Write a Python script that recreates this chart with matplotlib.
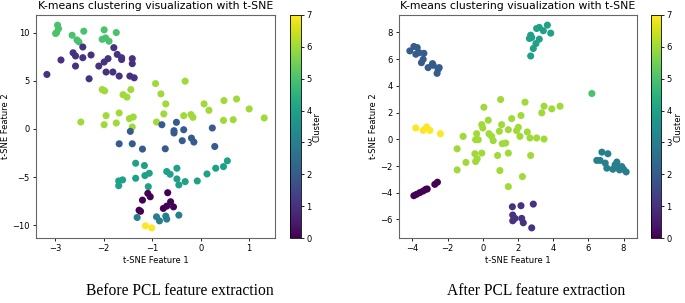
import matplotlib.pyplot as plt
import numpy as np

# before PCL: t-SNE coordinates and cluster labels
before_x = [
    -2.95, -2.93, -2.97, -2.99, -2.65, -2.55, -2.51, -2.41, -1.99, -2.03, -1.96, -1.89, -1.74,
    -3.17, -2.88, -2.63, -2.58, -2.58, -2.43, -2.43, -2.26, -2.30, -2.10, -1.99, -1.91, -1.95,
    -1.81, -1.79, -1.72, -1.63, -1.63, -1.68, -1.46, -1.41, -1.41, -1.37,
    -2.47, -2.03, -1.98, -1.95, -1.99, -1.74, -1.68, -1.60, -1.52, -1.44, -1.47, -1.39, -1.41,
    -0.93, -0.82, -0.72, -0.76, -0.91, -0.32, -0.35, -0.20, -0.16, 0.07, 0.17, 0.48, 0.47,
    0.74, 0.67, 1.00, 1.31,
    -1.45, -1.68, -1.41, -1.20, -0.80, -0.50, -0.55, -0.55, -0.35, -0.38, -0.19, -0.14, -0.73,
    0.24, 0.29,
    -1.34, -1.16, -1.34, -1.15, -1.06, -1.69, -1.61, -1.69, -1.08, -0.70, -0.63, -0.49, -0.49,
    -0.45, -0.32, -0.07, 0.13, 0.31, 0.47, 0.55,
    -1.09, -1.04, -1.20, -1.27, -1.24, -0.68, -0.77, -0.70, -0.62, -0.56,
    -1.31, -0.91, -0.85, -0.72, -0.70, -0.45,
    -1.14, -1.01,
]
before_y = [
    10.77, 10.40, 10.00, 9.90, 9.72, 9.23, 9.03, 10.14, 10.28, 9.30, 9.44, 9.10, 10.00,
    5.65, 7.15, 7.90, 7.57, 6.52, 8.50, 7.39, 7.67, 5.20, 6.52, 6.94, 7.29, 5.90,
    5.90, 8.43, 7.73, 7.39, 7.20, 5.48, 5.48, 7.29, 6.77, 5.30,
    0.71, 4.08, 3.95, 1.37, 0.43, 0.61, 1.65, 3.55, 3.30, 4.08, 1.06, 1.23, 0.19,
    4.70, 3.63, 2.59, 1.55, 0.71, 4.95, 1.37, 1.48, 1.20, 2.59, 1.93, 2.94, 0.88,
    3.10, 0.95, 2.07, 1.13,
    -0.26, -1.55, -1.55, -2.10, 0.43, 0.68, -0.19, -0.43, -0.09, -1.23, -0.96, -1.37, -2.07,
    0.09, -1.83,
    -3.57, -3.81, -5.13, -4.85, -4.61, -5.41, -5.30, -5.90, -6.00, -4.43, -4.71, -4.09, -5.20,
    -5.82, -5.48, -5.41, -4.68, -4.09, -3.92, -3.32,
    -6.70, -7.05, -7.40, -8.45, -8.56, -6.63, -8.26, -8.02, -7.57, -8.10,
    -9.20, -9.13, -9.55, -9.06, -9.37, -8.96,
    -10.07, -10.28,
]
before_label = [5] * 13 + [1] * 23 + [6] * 30 + [2] * 15 + [4] * 20 + [0] * 10 + [3] * 6 + [7] * 2

# after PCL
after_x = [
    -4.15, -3.92, -3.73, -3.81, -3.62, -3.35, -3.39, -3.49, -3.11, -2.82, -2.86, -2.54, -2.48, -2.60,
    -3.81, -3.39, -3.20, -3.01, -2.41,
    -3.92, -3.77, -3.58, -3.39, -3.24, -3.16, -2.73, -2.58,
    1.68, 2.17, 2.87, 1.70, 1.83, 1.70, 2.21, 2.30, 2.78,
    2.72, 2.65, 2.78, 3.06, 3.21, 3.44, 3.67, 3.86, 3.21, 3.02, 2.87, 2.72,
    6.20,
    6.77, 7.11, 6.48, 6.67, 6.96, 7.05, 7.39, 7.52, 7.62, 7.77, 7.90, 8.00, 8.15, 7.62,
    1.01, 0.06, 2.40, 3.48, 3.35, 3.92, 4.39, 1.64, 2.17, 0.31, -0.06, 0.00, 1.07, -1.12,
    -0.35, -0.41, -0.26, 0.35, 0.50, 0.59, 0.94, 1.45, 2.02, 1.92, 2.11, 2.53, 2.68, 3.06,
    3.48, 1.11, 1.30, -1.46, -0.45, -0.32, -0.41, -0.06, 0.84, 1.45, 2.72, -0.96, -1.46,
    0.97, 2.25, 1.45,
]
after_y = [
    6.62, 6.95, 6.87, 6.37, 6.49, 6.44, 5.99, 5.74, 5.37, 5.54, 5.67, 5.24, 5.37, 4.94,
    0.85, 0.67, 0.93, 0.67, 0.42,
    -4.22, -4.12, -3.99, -3.87, -3.74, -3.72, -3.37, -3.21,
    -5.05, -4.97, -4.85, -5.67, -5.92, -6.10, -5.92, -6.25, -6.63,
    7.80, 7.55, 7.62, 8.30, 8.38, 8.13, 8.55, 7.95, 7.50, 7.17, 6.80, 6.24,
    3.43,
    -0.96, -1.08, -1.58, -1.58, -1.78, -2.16, -2.24, -1.91, -2.11, -2.29, -2.04, -2.24, -2.44, -1.70,
    2.98, 2.40, 2.78, 2.48, 1.98, 2.28, 2.48, 1.55, 1.78, 1.43, 1.10, 0.85, 1.10, 0.22,
    0.42, -0.03, -0.03, 0.42, 0.22, -0.10, 0.60, 0.72, 0.90, 0.65, 0.22, 0.55, 0.10, 0.10,
    0.02, -0.33, -0.28, -0.71, -1.08, -1.46, -1.66, -1.03, -1.21, -1.03, -1.21, -1.73, -2.29,
    -2.34, -2.79, -3.54,
]
after_label = [2] * 14 + [7] * 5 + [0] * 8 + [1] * 9 + [4] * 12 + [5] * 1 + [3] * 14 + [6] * 44

captions = ['Before PCL feature extraction', 'After PCL feature extraction']

fig = plt.figure(figsize=(6.85, 3.03), dpi=100)

panels = [
    (before_x, before_y, before_label, [0.0526, 0.2145, 0.349, 0.736], [0.4234, 0.2145, 0.0155, 0.736], 0.263),
    (after_x, after_y, after_label, [0.5825, 0.2145, 0.3474, 0.736], [0.9500, 0.2145, 0.0150, 0.736], 0.782),
]

for (xs, ys, labs, ax_rect, cb_rect, cap_x), cap in zip(panels, captions):
    ax = fig.add_axes(ax_rect)
    cax = fig.add_axes(cb_rect)
    sc = ax.scatter(xs, ys, c=labs, cmap='viridis', vmin=0, vmax=7, s=26, linewidths=0)
    ax.set_title('K-means clustering visualization with t-SNE', fontsize=7.8, pad=4)
    ax.set_xlabel('t-SNE Feature 1', fontsize=6, labelpad=2)
    ax.set_ylabel('t-SNE Feature 2', fontsize=6, labelpad=2)
    ax.tick_params(labelsize=6, length=2.5, width=0.6, pad=2)
    for sp in ax.spines.values():
        sp.set_color('#666666')
        sp.set_linewidth(0.8)
    cb = fig.colorbar(sc, cax=cax)
    cb.set_label('Cluster', fontsize=6, labelpad=1)
    cb.ax.tick_params(labelsize=6, length=2.5, width=0.6, pad=1.5)
    cb.outline.set_linewidth(0.6)
    fig.text(cap_x, 0.04, cap, ha='center', va='center',
             fontsize=11.2, family='Liberation Serif')

fig.savefig('out.png', dpi=100)
